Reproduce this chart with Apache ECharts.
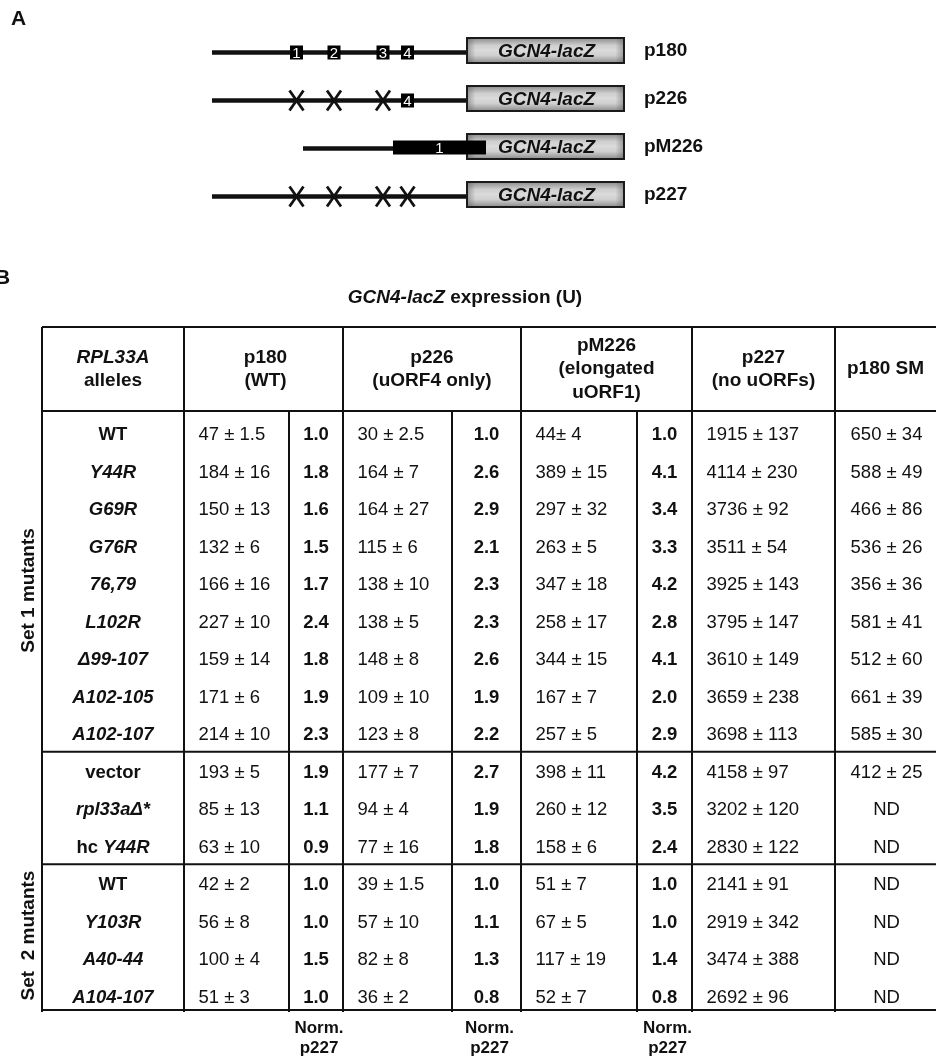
<!DOCTYPE html>
<html><head><meta charset="utf-8">
<script src="https://cdn.jsdelivr.net/npm/echarts@6/dist/echarts.min.js"></script>
<style>html,body{margin:0;padding:0;background:#fff}#c{width:936px;height:1056px}</style>
</head><body><div id="c"></div>
<script>
// ================= DATA =================
// Panel A: constructs (positions in schematic units along the leader)
const constructs = ['p180', 'p226', 'pM226', 'p227'];
const leaderStart = [0, 0, 91, 0];
const uorfCenters = [84.5, 122, 171, 195.5];          // uORF1..uORF4
const uorfState = [[1, 1, 1, 1], [0, 0, 0, 1], null, [0, 0, 0, 0]]; // 1 = intact, 0 = mutated (X)
const elongatedUorf1 = [181, 274];                     // pM226 only
const reporterSpan = [255, 412];
const reporterName = 'GCN4-lacZ';

// Panel B: table
const headerLines = [['RPL33A', 'alleles'], ['p180', '(WT)'], ['p226', '(uORF4 only)'],
  ['pM226', '(elongated', 'uORF1)'], ['p227', '(no uORFs)'], ['p180 SM']];
const alleles = ['WT', 'Y44R', 'G69R', 'G76R', '76,79', 'L102R', 'Δ99-107', 'A102-105', 'A102-107',
  'vector', 'rpl33aΔ*', 'hc Y44R', 'WT', 'Y103R', 'A40-44', 'A104-107'];
const p180Values = ['47 ± 1.5', '184 ± 16', '150 ± 13', '132 ± 6', '166 ± 16', '227 ± 10', '159 ± 14', '171 ± 6', '214 ± 10',
  '193 ± 5', '85 ± 13', '63 ± 10', '42 ± 2', '56 ± 8', '100 ± 4', '51 ± 3'];
const p180Norm = [1.0, 1.8, 1.6, 1.5, 1.7, 2.4, 1.8, 1.9, 2.3, 1.9, 1.1, 0.9, 1.0, 1.0, 1.5, 1.0];
const p226Values = ['30 ± 2.5', '164 ± 7', '164 ± 27', '115 ± 6', '138 ± 10', '138 ± 5', '148 ± 8', '109 ± 10', '123 ± 8',
  '177 ± 7', '94 ± 4', '77 ± 16', '39 ± 1.5', '57 ± 10', '82 ± 8', '36 ± 2'];
const p226Norm = [1.0, 2.6, 2.9, 2.1, 2.3, 2.3, 2.6, 1.9, 2.2, 2.7, 1.9, 1.8, 1.0, 1.1, 1.3, 0.8];
const pM226Values = ['44± 4', '389 ± 15', '297 ± 32', '263 ± 5', '347 ± 18', '258 ± 17', '344 ± 15', '167 ± 7', '257 ± 5',
  '398 ± 11', '260 ± 12', '158 ± 6', '51 ± 7', '67 ± 5', '117 ± 19', '52 ± 7'];
const pM226Norm = [1.0, 4.1, 3.4, 3.3, 4.2, 2.8, 4.1, 2.0, 2.9, 4.2, 3.5, 2.4, 1.0, 1.0, 1.4, 0.8];
const p227Values = ['1915 ± 137', '4114 ± 230', '3736 ± 92', '3511 ± 54', '3925 ± 143', '3795 ± 147', '3610 ± 149', '3659 ± 238', '3698 ± 113',
  '4158 ± 97', '3202 ± 120', '2830 ± 122', '2141 ± 91', '2919 ± 342', '3474 ± 388', '2692 ± 96'];
const p180SMValues = ['650 ± 34', '588 ± 49', '466 ± 86', '536 ± 26', '356 ± 36', '581 ± 41', '512 ± 60', '661 ± 39', '585 ± 30',
  '412 ± 25', 'ND', 'ND', 'ND', 'ND', 'ND', 'ND'];
const setLabels = ['Set 1 mutants', 'Set  2 mutants'];
const setRows = [[0, 8], [12, 15]];
const groupBreaks = [8.5, 11.5];
const normFooter = ['Norm.', 'p227'];

// ================= LAYOUT =================
const FONT = "'Liberation Sans', Arial, Helvetica, sans-serif";
const colEdges = [0, 142, 247, 301, 410, 479, 595, 650, 793, 894];
const Y_MIN = -2.8267, Y_MAX = 15.3867, HEADER_LINE = -0.5867, HEADER_CENTER = -1.7;
const TEXT_DY = 2;
const INK = '#111';

const chart = echarts.init(document.getElementById('c'), null, { renderer: 'canvas' });

function txt(x, y, text, o) {
  return { type: 'text', x: x, y: y, style: Object.assign({
    text: text, fill: INK, fontFamily: FONT, fontSize: 18.5, fontWeight: 'normal',
    fontStyle: 'normal', align: 'left', verticalAlign: 'middle' }, o || {}) };
}
function line(x1, y1, x2, y2, w) {
  return { type: 'line', shape: { x1: x1, y1: y1, x2: x2, y2: y2 }, style: { stroke: INK, lineWidth: w || 2 } };
}
const roman = { 'WT': 1, 'vector': 1 };

// --- schematic ---
function renderConstruct(params, api) {
  const i = params.dataIndex, k = api.value(0);
  const p0 = api.coord([reporterSpan[0], k]);
  const xr1 = api.coord([reporterSpan[1], k])[0];
  const xr0 = p0[0], yc = p0[1], ly = yc + 2;
  const ch = [];
  ch.push(line(api.coord([leaderStart[i], k])[0], ly, xr0, ly, 4.5));
  const bh = 25;
  ch.push({ type: 'rect', shape: { x: xr0, y: yc - bh / 2, width: xr1 - xr0, height: bh },
    style: { fill: new echarts.graphic.LinearGradient(0, 0, 0, 1, [
      { offset: 0, color: '#8c8c8c' }, { offset: 0.3, color: '#cfcfcf' }, { offset: 0.5, color: '#dadada' },
      { offset: 0.7, color: '#cfcfcf' }, { offset: 1, color: '#8c8c8c' }]), stroke: 'none' } });
  ch.push({ type: 'rect', shape: { x: xr0, y: yc - bh / 2, width: xr1 - xr0, height: bh },
    style: { fill: new echarts.graphic.LinearGradient(0, 0, 1, 0, [
      { offset: 0, color: 'rgba(90,90,90,0.55)' }, { offset: 0.06, color: 'rgba(90,90,90,0)' },
      { offset: 0.94, color: 'rgba(90,90,90,0)' }, { offset: 1, color: 'rgba(90,90,90,0.55)' }]),
      stroke: '#1a1a1a', lineWidth: 2 } });
  ch.push(txt((xr0 + xr1) / 2 + 1, yc + 1.5, reporterName, { fontSize: 19, fontWeight: 'bold', fontStyle: 'italic', align: 'center' }));
  const st = uorfState[i];
  if (st) {
    st.forEach(function (s, j) {
      const x = api.coord([uorfCenters[j], k])[0];
      if (s) {
        ch.push({ type: 'rect', shape: { x: x - 6.5, y: ly - 7, width: 13, height: 14 }, style: { fill: '#000' } });
        ch.push(txt(x, ly + 1, String(j + 1), { fill: '#fff', fontSize: 15, align: 'center' }));
      } else {
        ch.push(line(x - 7, ly - 10, x + 7, ly + 10, 2.8));
        ch.push(line(x + 7, ly - 10, x - 7, ly + 10, 2.8));
      }
    });
  } else {
    const xa = api.coord([elongatedUorf1[0], k])[0], xb = api.coord([elongatedUorf1[1], k])[0];
    ch.push({ type: 'rect', shape: { x: xa, y: ly - 8, width: xb - xa, height: 14 }, style: { fill: '#000' } });
    ch.push(txt((xa + xb) / 2, ly, '1', { fill: '#fff', fontSize: 15, align: 'center' }));
  }
  ch.push(txt(xr1 + 20, yc, constructs[i], { fontSize: 19, fontWeight: 'bold' }));
  return { type: 'group', children: ch };
}

// --- table rules + header + footer ---
function renderFrame(params, api) {
  const ch = [];
  const X = function (e) { return api.coord([colEdges[e], 0])[0]; };
  const Y = function (v) { return api.coord([0, v])[1]; };
  const yTop = Y(Y_MIN), yBot = Y(Y_MAX), yHead = Y(HEADER_LINE);
  [Y_MIN, HEADER_LINE, groupBreaks[0], groupBreaks[1], Y_MAX].forEach(function (v) {
    ch.push(line(X(0), Y(v), X(9), Y(v), 2));
  });
  [0, 1, 3, 5, 7, 8].forEach(function (e) { ch.push(line(X(e), yTop, X(e), yBot + 2, 2)); });
  [2, 4, 6].forEach(function (e) { ch.push(line(X(e), yHead, X(e), yBot + 2, 2)); });
  // headers
  const spans = [[0, 1], [1, 3], [3, 5], [5, 7], [7, 8], [8, 9]];
  const yh = Y(HEADER_CENTER), lh = 23.5;
  headerLines.forEach(function (lines, h) {
    const xc = (X(spans[h][0]) + X(spans[h][1])) / 2 + (h === 1 ? 2 : 0);
    lines.forEach(function (s, j) {
      const y = yh + (j - (lines.length - 1) / 2) * lh;
      ch.push(txt(xc, y, s, { fontSize: 19, fontWeight: 'bold', fontStyle: (h === 0 && j === 0) ? 'italic' : 'normal', align: 'center' }));
    });
  });
  // footer under normalized columns
  [2, 4, 6].forEach(function (e) {
    const xc = (X(e) + X(e + 1)) / 2 + 3;
    normFooter.forEach(function (s, j) {
      ch.push(txt(xc, yBot + 18 + j * 20, s, { fontSize: 17, fontWeight: 'bold', align: 'center' }));
    });
  });
  // set labels (rotated)
  setLabels.forEach(function (s, g) {
    const yc = Y((setRows[g][0] + setRows[g][1]) / 2 + (g === 0 ? 0.2 : -0.1));
    ch.push({ type: 'text', x: X(0) - 13, y: yc, rotation: Math.PI / 2,
      style: { text: s, fill: INK, fontFamily: FONT, fontSize: 19, fontWeight: 'bold', align: 'center', verticalAlign: 'middle' } });
  });
  return { type: 'group', children: ch };
}

// --- table cells, one data item per row ---
function renderRow(params, api) {
  const r = params.dataIndex, k = api.value(0);
  const X = function (e) { return api.coord([colEdges[e], k])[0]; };
  const y = api.coord([0, k])[1] + TEXT_DY;
  const pad = 14.5;
  const ch = [];
  const a = alleles[r];
  const xa = (X(0) + X(1)) / 2;
  if (a.indexOf('hc ') === 0) {
    ch.push(txt(xa, y, '{r|hc }{i|' + a.slice(3) + '}', { align: 'center', rich: {
      r: { fontFamily: FONT, fontSize: 18.5, fontWeight: 'bold', fill: INK },
      i: { fontFamily: FONT, fontSize: 18.5, fontWeight: 'bold', fontStyle: 'italic', fill: INK } } }));
  } else {
    ch.push(txt(xa, y, a, { fontWeight: 'bold', fontStyle: roman[a] ? 'normal' : 'italic', align: 'center' }));
  }
  ch.push(txt(X(1) + pad, y, p180Values[r]));
  ch.push(txt((X(2) + X(3)) / 2, y, p180Norm[r].toFixed(1), { fontWeight: 'bold', align: 'center' }));
  ch.push(txt(X(3) + pad, y, p226Values[r]));
  ch.push(txt((X(4) + X(5)) / 2, y, p226Norm[r].toFixed(1), { fontWeight: 'bold', align: 'center' }));
  ch.push(txt(X(5) + pad, y, pM226Values[r]));
  ch.push(txt((X(6) + X(7)) / 2, y, pM226Norm[r].toFixed(1), { fontWeight: 'bold', align: 'center' }));
  ch.push(txt(X(7) + pad, y, p227Values[r]));
  ch.push(txt((X(8) + X(9)) / 2 + 1, y, p180SMValues[r], { align: 'center' }));
  return { type: 'group', children: ch };
}

const hiddenAxis = { show: false };
chart.setOption({
  animation: false,
  backgroundColor: '#fff',
  grid: [
    { left: 42, top: 327, width: 894, height: 683 },
    { left: 212, top: 2.5, width: 500, height: 240 }
  ],
  xAxis: [
    Object.assign({ type: 'value', min: 0, max: 894, gridIndex: 0 }, hiddenAxis),
    Object.assign({ type: 'value', min: 0, max: 500, gridIndex: 1 }, hiddenAxis)
  ],
  yAxis: [
    Object.assign({ type: 'value', min: Y_MIN, max: Y_MAX, inverse: true, gridIndex: 0 }, hiddenAxis),
    Object.assign({ type: 'value', min: -1, max: 4, inverse: true, gridIndex: 1 }, hiddenAxis)
  ],
  graphic: [
    { type: 'text', left: 11, top: 9, style: { text: 'A', fontFamily: FONT, fontSize: 21, fontWeight: 'bold', fill: INK } },
    { type: 'text', x: -5, y: 268, style: { text: 'B', fontFamily: FONT, fontSize: 21, fontWeight: 'bold', fill: INK } },
    { type: 'text', x: 465, y: 298, style: { text: '{i|GCN4-lacZ}{b| expression (U)}', align: 'center', verticalAlign: 'middle',
      rich: { i: { fontFamily: FONT, fontSize: 19, fontWeight: 'bold', fontStyle: 'italic', fill: INK },
              b: { fontFamily: FONT, fontSize: 19, fontWeight: 'bold', fill: INK } } } }
  ],
  series: [
    { type: 'custom', xAxisIndex: 1, yAxisIndex: 1, data: constructs.map(function (c, i) { return [i]; }), renderItem: renderConstruct, silent: true },
    { type: 'custom', xAxisIndex: 0, yAxisIndex: 0, data: [[0]], renderItem: renderFrame, silent: true },
    { type: 'custom', xAxisIndex: 0, yAxisIndex: 0, data: alleles.map(function (a, i) { return [i]; }), renderItem: renderRow, silent: true }
  ]
});
</script></body></html>
